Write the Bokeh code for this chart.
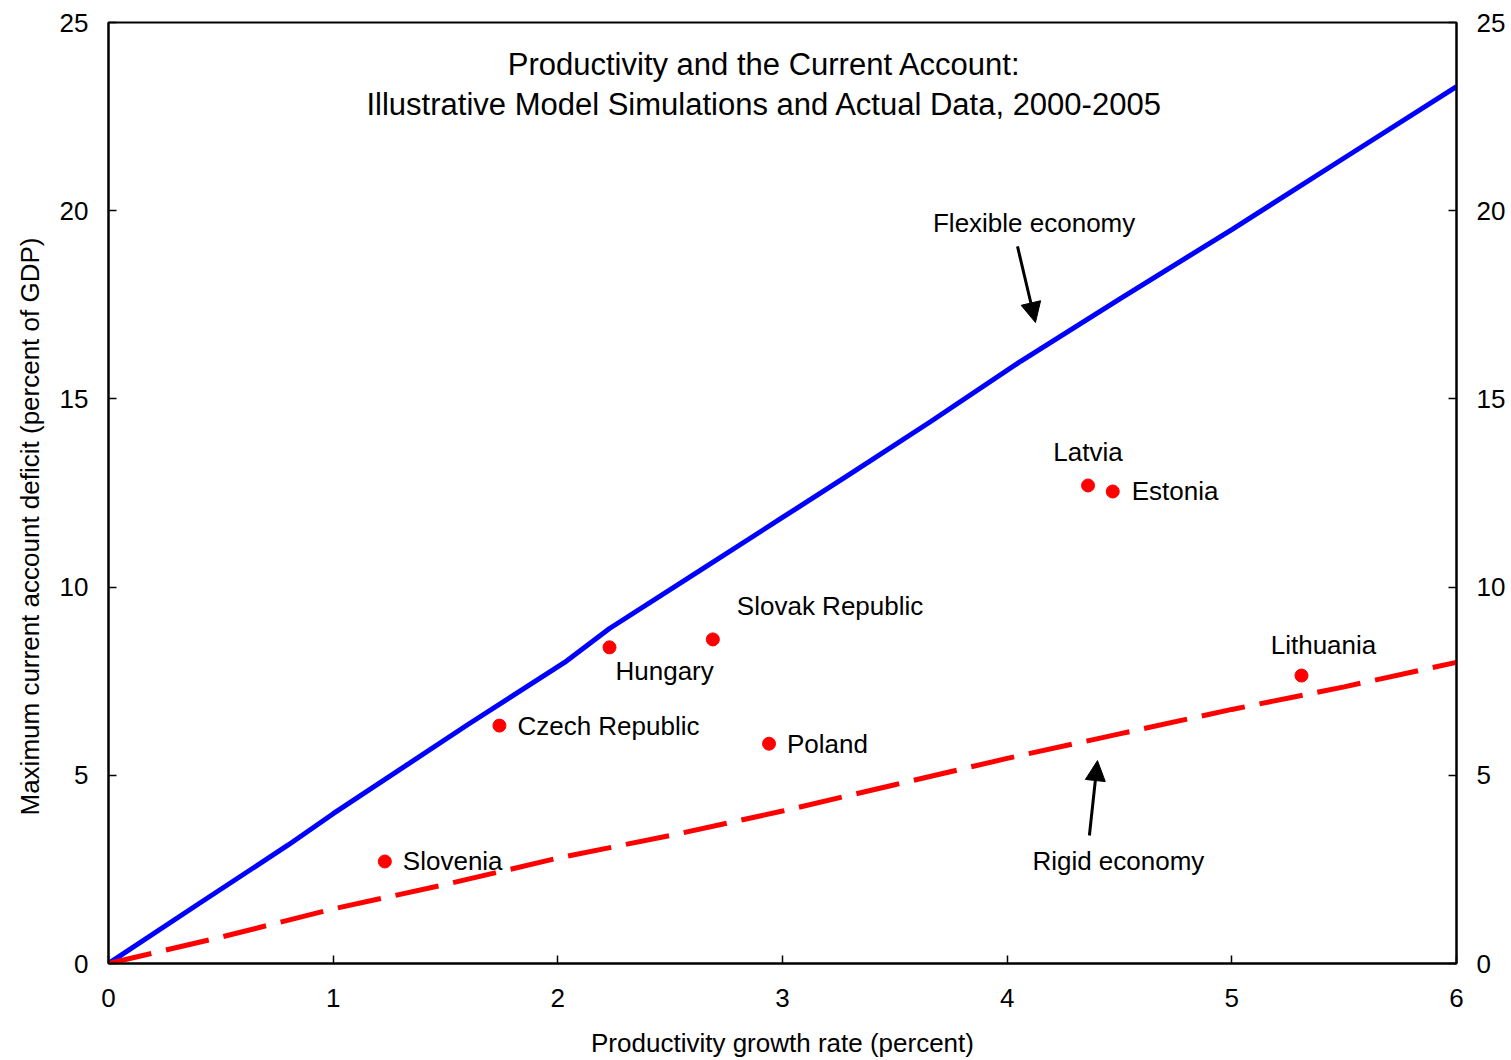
from bokeh.plotting import figure
from bokeh.models import (LinearAxis, FixedTicker, Arrow, NormalHead, Label, Title,
                          ColumnDataSource, Range1d)
from bokeh.core.properties import value
from bokeh.embed import file_html
from bokeh.resources import INLINE

# ---------------- data ----------------
flex_x = [0, 0.4, 0.8, 1.0, 1.6, 2.03, 2.23, 2.63, 3.0, 3.3, 3.66, 4.06, 4.5, 5.0, 5.5, 6.0]
flex_y = [0, 1.58, 3.15, 3.98, 6.35, 8.0, 8.9, 10.43, 11.85, 13.0, 14.4, 16.0, 17.65, 19.5, 21.4, 23.3]

rigid_x = [0, 0.5, 1.0, 1.5, 2.0, 2.5, 3.0, 3.5, 4.0, 4.5, 5.0, 5.5, 6.0]
rigid_y = [0, 0.7, 1.45, 2.1, 2.8, 3.4, 4.05, 4.75, 5.45, 6.1, 6.75, 7.35, 8.0]

countries = ["Slovenia", "Czech Republic", "Hungary", "Slovak Republic",
             "Poland", "Latvia", "Estonia", "Lithuania"]
prod_growth = [1.23, 1.74, 2.23, 2.69, 2.94, 4.36, 4.47, 5.31]
max_deficit = [2.71, 6.32, 8.40, 8.61, 5.84, 12.70, 12.54, 7.65]

x_ticks = [0, 1, 2, 3, 4, 5, 6]
y_ticks = [0, 5, 10, 15, 20, 25]

title_lines = ["Productivity and the Current Account:",
               "Illustrative Model Simulations and Actual Data, 2000-2005"]
x_label = "Productivity growth rate (percent)"
y_label = "Maximum current account deficit (percent of GDP)"

annot_text = ["Flexible economy", "Rigid economy"]
annot_xy = [(4.12, 19.66), (4.495, 2.71)]
arrow_start = [(4.046, 19.05), (4.366, 3.40)]
arrow_end = [(4.126, 17.03), (4.402, 5.39)]

# ---------------- layout / styles ----------------
FONT = "Liberation Sans"
FS = "26px"
title_pos = [(2.92, 23.88), (2.92, 22.82)]
# label offsets in pixels (dx, dy screen-down) and alignment per country
label_dx = [18, 18, 6, 24, 18, 0, 19, 22]
label_dy = [0, 0, 24, -33, 0, -33, 0, -31]
label_align = ["left", "left", "left", "left", "left", "center", "left", "center"]

p = figure(width=1511, height=1060, x_range=Range1d(0, 6), y_range=Range1d(0, 25),
           output_backend="svg", toolbar_location=None,
           min_border_left=108, min_border_right=55, min_border_top=22,
           min_border_bottom=97, background_fill_color="white",
           border_fill_color="white")
p.xgrid.visible = False
p.ygrid.visible = False
p.outline_line_color = "black"
p.outline_line_width = 2
p.outline_line_alpha = 1.0

p.add_layout(LinearAxis(), "right")

for ax in p.xaxis + p.yaxis:
    ax.axis_line_color = "black"
    ax.axis_line_width = 2
    ax.major_tick_in = 8
    ax.major_tick_out = 0
    ax.major_tick_line_color = "black"
    ax.major_tick_line_width = 1.5
    ax.minor_tick_line_color = None
    ax.major_label_text_font = FONT
    ax.major_label_text_font_size = FS
    ax.major_label_text_color = "black"
    ax.axis_label_text_font = FONT
    ax.axis_label_text_font_size = FS
    ax.axis_label_text_font_style = "normal"
    ax.axis_label_text_color = "black"

for ax in p.xaxis:
    ax.ticker = FixedTicker(ticks=x_ticks)
    ax.major_label_standoff = 25
    ax.axis_label = x_label
    ax.axis_label_standoff = 18
for ax in p.yaxis:
    ax.ticker = FixedTicker(ticks=y_ticks)
    ax.major_label_standoff = 20
p.yaxis[1].major_label_standoff = 20

# y-axis title as a side title (anchored from the bottom of the frame)
p.add_layout(Title(text=y_label, align="left", offset=148, standoff=24,
                   text_font=FONT, text_font_size=FS, text_font_style="normal",
                   text_color="black"), "left")

# lines
p.line(flex_x, flex_y, line_color="#0000FF", line_width=5)
p.line(rigid_x, rigid_y, line_color="#FF0000", line_width=5, line_dash="44 15")

# points
src = ColumnDataSource(dict(x=prod_growth, y=max_deficit, name=countries,
                            dx=label_dx, dy=label_dy, align=label_align))
p.scatter("x", "y", source=src, size=13, fill_color="#FF0000", line_color="#FF0000")
p.text("x", "y", text="name", source=src, x_offset="dx", y_offset="dy",
       text_align="align", text_baseline="middle",
       text_font=value(FONT), text_font_size=FS, text_color="black")

# title inside plot
for t, (tx, ty) in zip(title_lines, title_pos):
    p.add_layout(Label(x=tx, y=ty, text=t, text_align="center", text_baseline="middle",
                       text_font=FONT, text_font_size="31px", text_color="black"))

# annotations
for t, (ax_, ay_) in zip(annot_text, annot_xy):
    p.add_layout(Label(x=ax_, y=ay_, text=t, text_align="center", text_baseline="middle",
                       text_font=FONT, text_font_size=FS, text_color="black"))
for (xs, ys), (xe, ye) in zip(arrow_start, arrow_end):
    p.add_layout(Arrow(x_start=xs, y_start=ys, x_end=xe, y_end=ye,
                       line_color="black", line_width=3,
                       end=NormalHead(size=20, fill_color="black", line_color="black")))

open("out.html", "w").write(file_html(p, INLINE))
